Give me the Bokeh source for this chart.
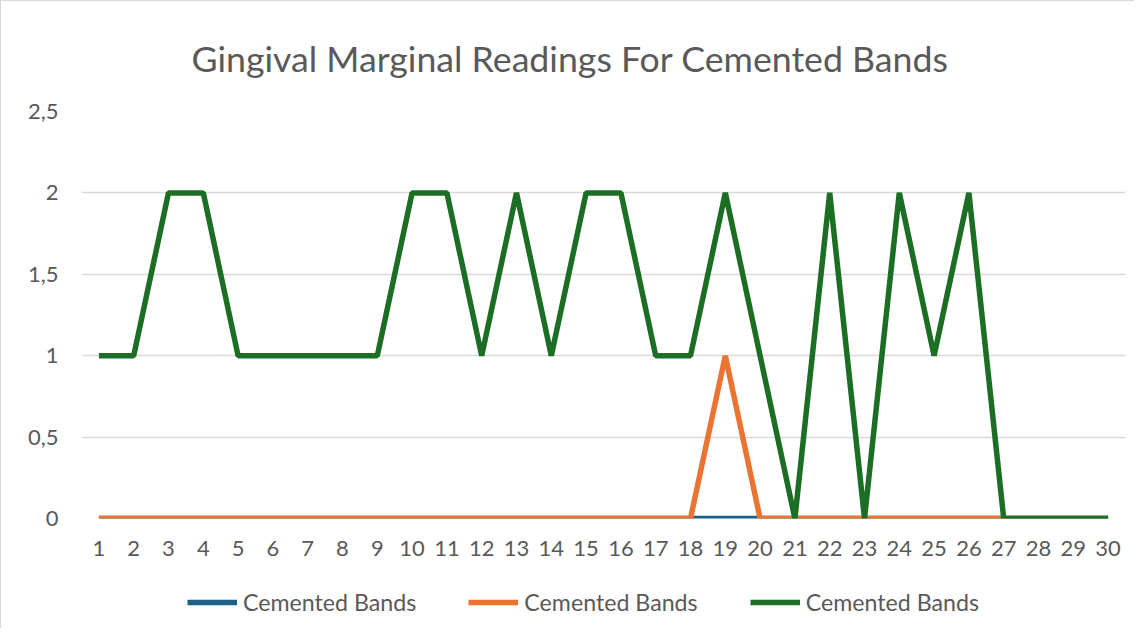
from bokeh.plotting import figure
from bokeh.layouts import column
from bokeh.models import ColumnDataSource, FactorRange, Range1d, Legend, LegendItem, FixedTicker, CustomJSTickFormatter
from bokeh.embed import file_html
from bokeh.resources import INLINE

# ---- data ----
categories = [str(i) for i in range(1, 31)]
series_blue = [0] * 30
series_orange = [0, 0, 0, 0, 0, 0, 0, 0, 0, 0, 0, 0, 0, 0, 0, 0, 0, 0, 1, 0,
                 0, 0, 0, 0, 0, 0, 0, 0, 0, 0]
series_green = [1, 1, 2, 2, 1, 1, 1, 1, 1, 2, 2, 1, 2, 1, 2, 2, 1, 1, 2, 1,
                0, 2, 0, 2, 1, 2, 0, 0, 0, 0]
series_names = ["Cemented Bands", "Cemented Bands", "Cemented Bands"]
series_colors = ["#1B5E86", "#EB7432", "#1B6E24"]
title_text = "Gingival Marginal Readings For Cemented Bands"
y_ticks = [0, 0.5, 1, 1.5, 2, 2.5]

FONT = "Lato"
TXT = "#595959"
LW = 5.5

src = ColumnDataSource(dict(x=categories, blue=series_blue, orange=series_orange, green=series_green))

p = figure(width=1134, height=570, output_backend="svg", toolbar_location=None,
           x_range=FactorRange(factors=categories), y_range=Range1d(0, 2.5),
           min_border_left=80, min_border_right=10, min_border_top=110, min_border_bottom=53)
p.outline_line_color = None
p.styles = {"border-left": "1px solid #d9d9d9", "border-top": "1px solid #d9d9d9"}

for col, c in zip(["blue", "orange", "green"], series_colors):
    p.line("x", col, source=src, line_color=c, line_width=LW)

p.title.text = title_text
p.title.text_font = FONT
p.title.text_font_size = "35.7px"
p.title.text_font_style = "normal"
p.title.text_color = TXT
p.title.text_line_height = 1.0
p.title.align = "left"
p.title.offset = 110
p.title.standoff = 64

p.xgrid.grid_line_color = None
p.ygrid.grid_line_color = "#d9d9d9"
p.ygrid.grid_line_width = 1.5
p.yaxis.ticker = FixedTicker(ticks=y_ticks)
p.yaxis.formatter = CustomJSTickFormatter(code="return String(tick).replace('.', ',');")

for ax in (p.xaxis[0], p.yaxis[0]):
    ax.axis_line_color = None
    ax.major_tick_line_color = None
    ax.minor_tick_line_color = None
    ax.major_label_text_font = FONT
    ax.major_label_text_font_size = "22px"
    ax.major_label_text_color = TXT
p.xaxis.major_label_standoff = 16
p.yaxis.major_label_standoff = 17

# legend strip below the chart
lf = figure(width=1134, height=58, output_backend="svg", toolbar_location=None,
            x_range=Range1d(1, 2), y_range=Range1d(1, 2),
            x_axis_location=None, y_axis_location=None,
            min_border_left=0, min_border_right=0, min_border_top=0, min_border_bottom=0)
lf.outline_line_color = None
lf.grid.grid_line_color = None
lf.styles = {"border-left": "1px solid #d9d9d9"}
items = []
for name, c in zip(series_names, series_colors):
    rr = lf.line(x=[0, 0], y=[0, 0], line_color=c, line_width=LW)
    items.append(LegendItem(label=name, renderers=[rr]))
legend = Legend(items=items, orientation="horizontal", location=(106, 12),
                label_text_font=FONT, label_text_font_size="23.2px", label_text_color=TXT,
                glyph_width=50, glyph_height=20, label_standoff=6, spacing=52,
                border_line_color=None, background_fill_alpha=0, padding=0, margin=0)
lf.add_layout(legend, "center")

layout = column(p, lf, spacing=0)
open("out.html", "w").write(file_html(layout, INLINE))
